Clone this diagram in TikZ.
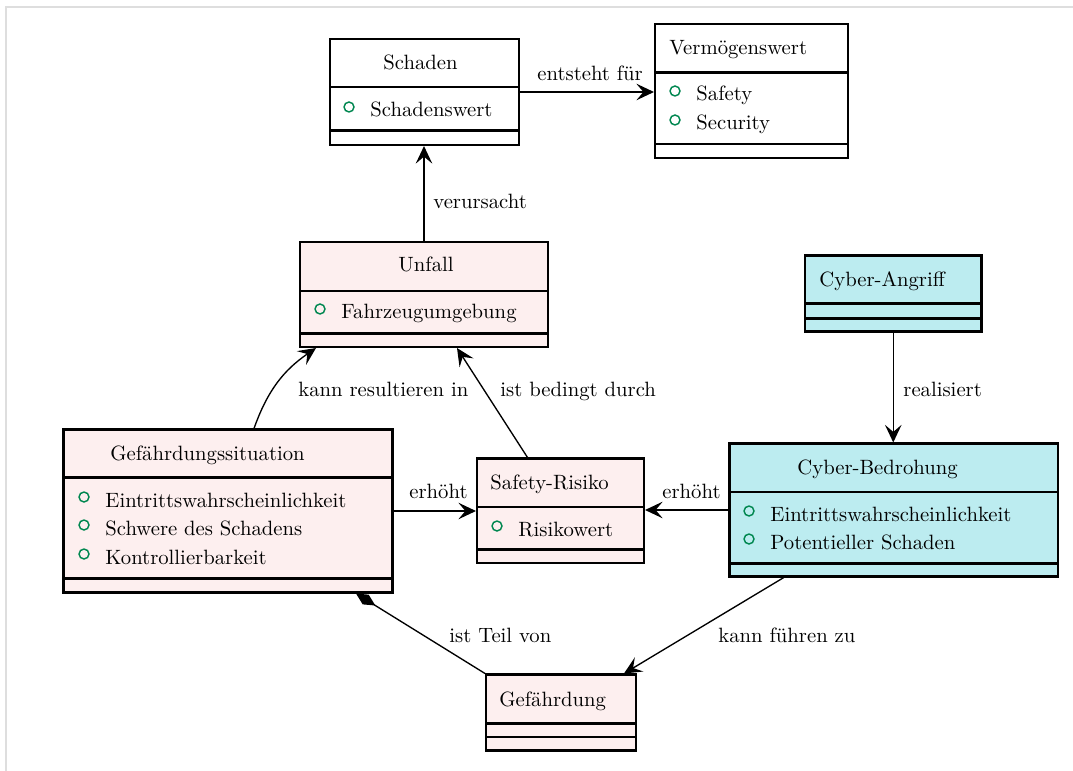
\documentclass[tikz,border=0pt]{standalone}
\usetikzlibrary{arrows.meta,fit,calc}

\definecolor{hazard}{RGB}{253,239,239}
\definecolor{cyber}{RGB}{188,236,240}
\definecolor{attrgreen}{RGB}{0,135,80}
\definecolor{framegray}{RGB}{222,222,222}

\tikzset{
  classbox/.style={draw, line width=1pt, inner sep=0pt},
  sepline/.style={line width=1pt},
  lbl/.style={inner sep=0pt, anchor=base west},
  assoc/.style={line width=0.65pt, -{Stealth[length=8.5pt,width=8pt,inset=3.4pt]}},
  compo/.style={line width=0.65pt, {Diamond[length=11pt,width=5.5pt]}-},
  attrdot/.style={draw=attrgreen, line width=0.7pt},
}

% attribute row: green circle, then the text starting at x
\newcommand{\umlattr}[4]{%
  \draw[attrdot] (#2-21,#3-10) circle (2.4pt);
  \node[lbl] (#1) at (#2,#3) {#4};}

\begin{document}
\begin{tikzpicture}[x=0.4831pt,y=-0.4831pt]
\useasboundingbox (0,0) rectangle (1073,771);
\draw[framegray, line width=1pt] (6,771) -- (6,7) -- (1073,7);

% ---------- classes ----------
% Schaden
\node[classbox, fill=white, fit={(330,39) (519,145)}] (schaden) {};
\draw[sepline] (330,87) -- (519,87);
\draw[sepline] (330,130.5) -- (519,130.5);
\node[lbl] (schadenT) at (383,70) {Schaden};
\umlattr{schadenA}{370}{117}{Schadenswert}

% Vermoegenswert
\node[classbox, fill=white, fit={(655,24) (848,158)}] (verm) {};
\draw[sepline] (655,72.5) -- (848,72.5);
\draw[sepline] (655,144) -- (848,144);
\node[lbl] (vermT) at (669,55) {Vermögenswert};
\umlattr{vermA}{696}{101}{Safety}
\umlattr{vermB}{696}{130}{Security}

% Unfall
\node[classbox, fill=hazard, fit={(300,242) (548,347)}] (unfall) {};
\draw[sepline] (300,291) -- (548,291);
\draw[sepline] (300,333.5) -- (548,333.5);
\node[lbl] (unfallT) at (398,272) {Unfall};
\umlattr{unfallA}{341}{319}{Fahrzeugumgebung}

% Gefaehrdungssituation
\node[classbox, fill=hazard, fit={(63.5,429.5) (392.5,592.5)}] (gefsit) {};
\draw[sepline] (63.5,477.5) -- (392.5,477.5);
\draw[sepline] (63.5,578.5) -- (392.5,578.5);
\node[lbl] (gefsitT) at (110,460) {Gefährdungssituation};
\umlattr{gefsitA}{105}{507}{Eintrittswahrscheinlichkeit}
\umlattr{gefsitB}{105}{535}{Schwere des Schadens}
\umlattr{gefsitC}{105}{564}{Kontrollierbarkeit}

% Safety-Risiko
\node[classbox, fill=hazard, fit={(477,458.5) (644,563)}] (sr) {};
\draw[sepline] (477,507) -- (644,507);
\draw[sepline] (477,549.5) -- (644,549.5);
\node[lbl] (srT) at (490,489.5) {Safety-Risiko};
\umlattr{srA}{518}{536}{Risikowert}

% Cyber-Angriff
\node[classbox, fill=cyber, fit={(805,255.5) (981.5,331.5)}] (ca) {};
\draw[sepline] (805,303.5) -- (981.5,303.5);
\draw[sepline] (805,318.5) -- (981.5,318.5);
\node[lbl] (caT) at (819,287) {Cyber-Angriff};

% Cyber-Bedrohung
\node[classbox, fill=cyber, fit={(729.5,443.5) (1058,576.5)}] (cb) {};
\draw[sepline] (729.5,492) -- (1058,492);
\draw[sepline] (729.5,563.5) -- (1058,563.5);
\node[lbl] (cbT) at (797,474.5) {Cyber-Bedrohung};
\umlattr{cbA}{770}{521}{Eintrittswahrscheinlichkeit}
\umlattr{cbB}{770}{549}{Potentieller Schaden}

% Gefaehrdung
\node[classbox, fill=hazard, fit={(486,674.5) (636,750.5)}] (gef) {};
\draw[sepline] (486,723.5) -- (636,723.5);
\draw[sepline] (486,737) -- (636,737);
\node[lbl] (gefT) at (499,706) {Gefährdung};

% ---------- relations ----------
\draw[assoc] (schaden.east) -- (verm.west |- schaden.east);
\node[lbl] (l1) at (537,81) {entsteht für};

\draw[assoc] (unfall.north) -- (unfall.north |- schaden.south);
\node[lbl] (l2) at (433,209) {verursacht};

\draw[assoc] ($(gefsit.north)+(26,0)$) to[bend left=18] ($(unfall.south)+(-108,0)$);
\node[lbl] (l3) at (298,396) {kann resultieren in};

\draw[assoc] ($(sr.north)+(-33,0)$) -- ($(unfall.south)+(33,0)$);
\node[lbl] (l4) at (500,396) {ist bedingt durch};

\draw[assoc] (gefsit.east) -- (sr.west |- gefsit.east);
\node[lbl] (l5) at (409,498) {erhöht};

\draw[assoc] (cb.west) -- (sr.east |- cb.west);
\node[lbl] (l6) at (662,498) {erhöht};

\draw[assoc] (ca.south) -- (ca.south |- cb.north);
\node[lbl] (l7) at (903,396) {realisiert};

\draw[assoc] ($(cb.south)+(-110,0)$) -- ($(gef.north)+(63,0)$);
\node[lbl] (l8) at (718,642) {kann führen zu};

\draw[compo] ($(gefsit.south)+(128,0)$) -- (gef.north west);
\node[lbl] (l9) at (449,642) {ist Teil von};
\end{tikzpicture}
\end{document}
